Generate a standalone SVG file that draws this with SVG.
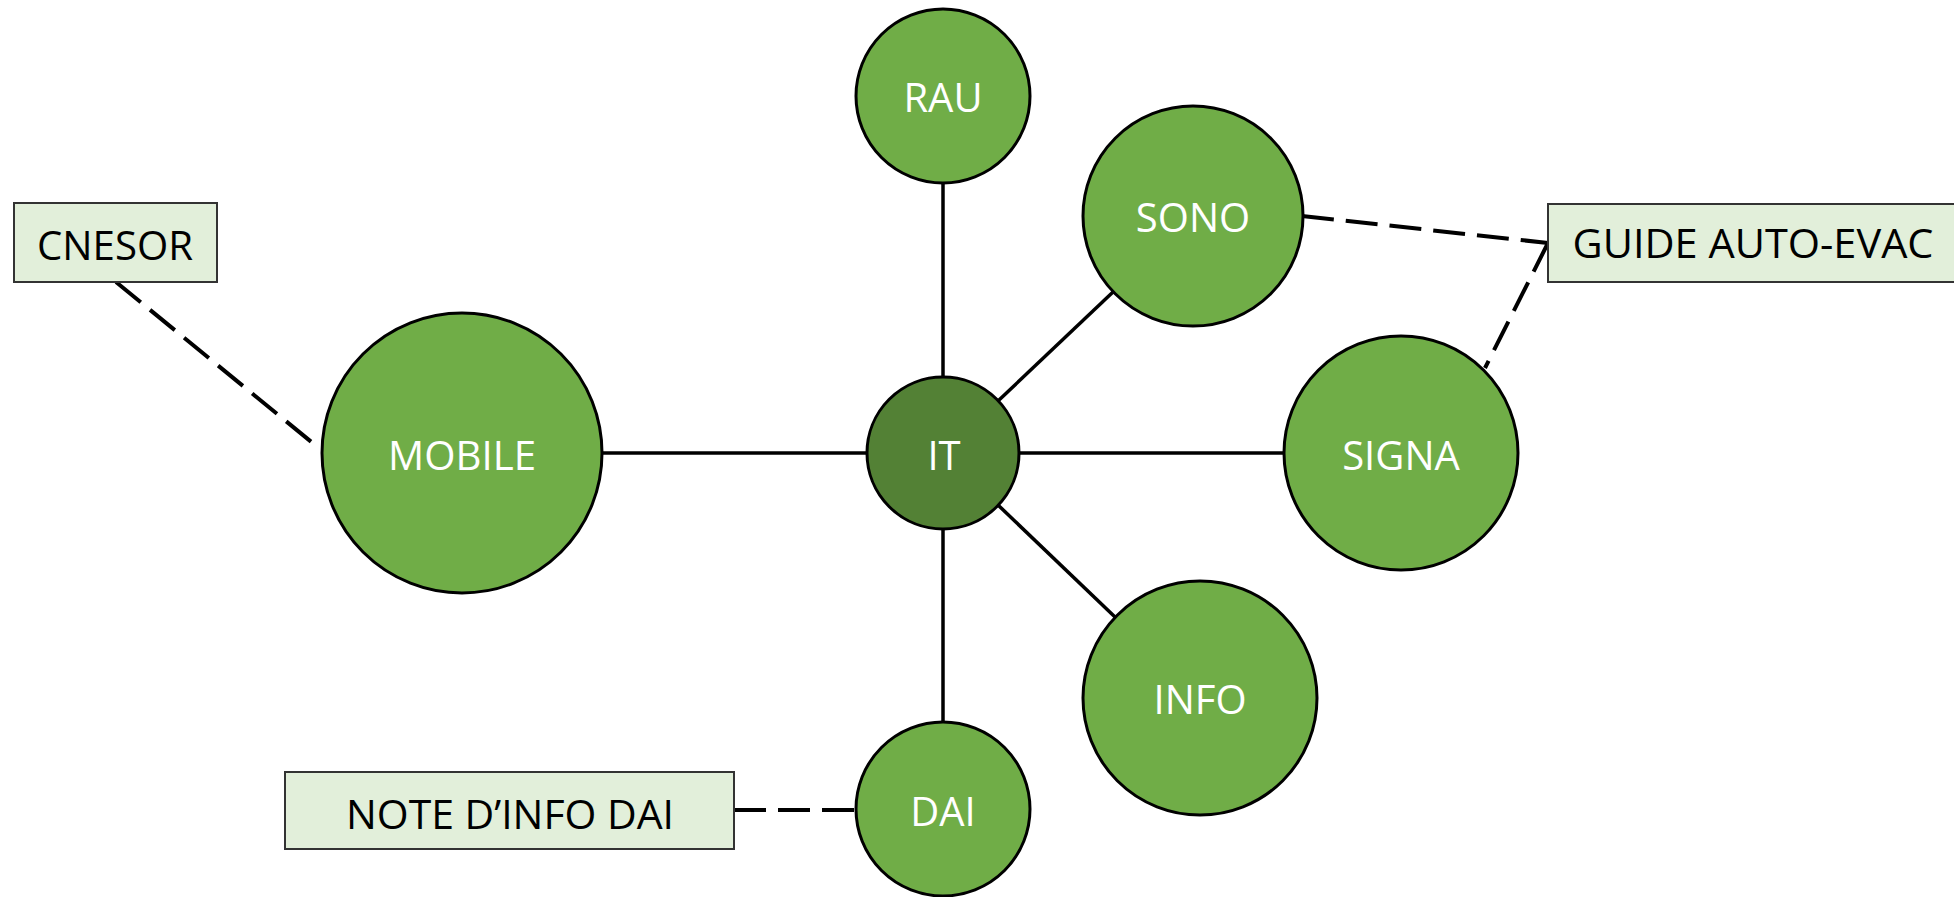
<svg xmlns="http://www.w3.org/2000/svg" width="1954" height="897" viewBox="0 0 1954 897">
<style>
.node{fill:#70AD47;stroke:#000;stroke-width:3}
.hub{fill:#538135;stroke:#000;stroke-width:3}
.box{fill:#E2EFDA;stroke:#333;stroke-width:2}
.solid{stroke:#000;stroke-width:3.5;fill:none}
.dash{stroke:#000;stroke-width:4;fill:none;stroke-dasharray:32 12}
text{font-family:"Open Sans","Liberation Sans",sans-serif;font-size:40px;text-anchor:middle}
.w{fill:#fff}
.k{fill:#000}
</style>
<rect width="1954" height="897" fill="#fff"/>
<g id="connectors">
<line class="solid" x1="943" y1="184" x2="943" y2="377"/>
<line class="solid" x1="943" y1="529" x2="943" y2="722"/>
<line class="solid" x1="602" y1="453" x2="867" y2="453"/>
<line class="solid" x1="1019" y1="453" x2="1284" y2="453"/>
<line class="solid" x1="998" y1="401" x2="1113" y2="292"/>
<line class="solid" x1="998" y1="505" x2="1115" y2="617"/>
<line class="dash" x1="116" y1="282" x2="320" y2="449"/>
<line class="dash" x1="1302" y1="216" x2="1548" y2="243"/>
<line class="dash" x1="1548" y1="243" x2="1485" y2="368"/>
<line class="dash" x1="734" y1="810" x2="856" y2="810"/>
</g>
<g id="node-rau"><circle class="node" cx="943" cy="96" r="87"/><text class="w" x="943" y="112">RAU</text></g>
<g id="node-sono"><circle class="node" cx="1193" cy="216" r="110"/><text class="w" x="1193" y="232">SONO</text></g>
<g id="node-mobile"><circle class="node" cx="462" cy="453" r="140"/><text class="w" x="462" y="470" textLength="148" lengthAdjust="spacingAndGlyphs">MOBILE</text></g>
<g id="node-it"><circle class="hub" cx="943" cy="453" r="76"/><text class="w" x="944" y="470">IT</text></g>
<g id="node-signa"><circle class="node" cx="1401" cy="453" r="117"/><text class="w" x="1401" y="470">SIGNA</text></g>
<g id="node-info"><circle class="node" cx="1200" cy="698" r="117"/><text class="w" x="1200" y="714">INFO</text></g>
<g id="node-dai"><circle class="node" cx="943" cy="809" r="87"/><text class="w" x="943" y="826">DAI</text></g>
<g id="node-cnesor"><rect class="box" x="14" y="203" width="203" height="79"/><text class="k" x="115" y="260" textLength="156" lengthAdjust="spacingAndGlyphs">CNESOR</text></g>
<g id="node-guide"><rect class="box" x="1548" y="204" width="412" height="78"/><text class="k" x="1753" y="258" textLength="361" lengthAdjust="spacingAndGlyphs">GUIDE AUTO-EVAC</text></g>
<g id="node-note"><rect class="box" x="285" y="772" width="449" height="77"/><text class="k" x="510" y="829" textLength="328" lengthAdjust="spacingAndGlyphs">NOTE D’INFO DAI</text></g>
</svg>
